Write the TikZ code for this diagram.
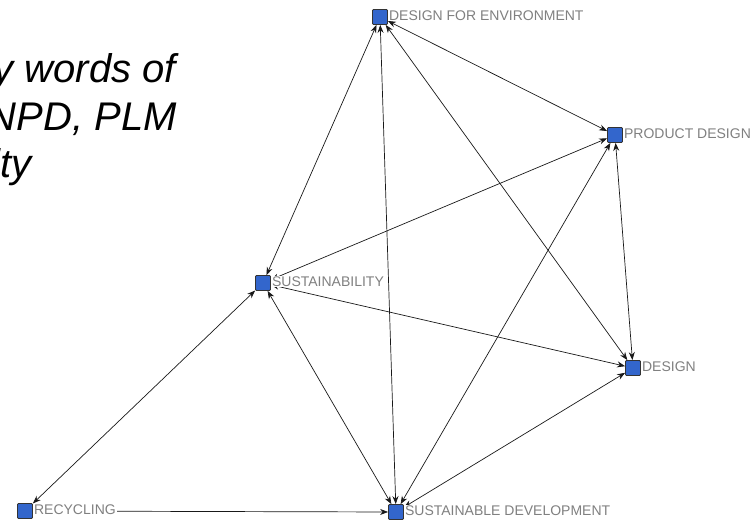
\documentclass[tikz,border=0pt]{standalone}
\usepackage{fontspec}
\setmainfont{Liberation Sans}
\setsansfont{Liberation Sans}
\usetikzlibrary{arrows.meta}

\pgfdeclarelayer{bg}
\pgfsetlayers{bg,main}
\definecolor{kwblue}{RGB}{51,102,204}

\tikzset{
  kw/.style={draw=black!80, fill=kwblue, rounded corners=1pt, minimum size=15pt, inner sep=0pt, line width=0.8pt},
  lbl/.style={text=black!50, font=\fontsize{14}{16}\selectfont, fill=white, inner sep=1pt, yshift=1.5pt},
  link/.style={black!90, line width=0.7pt, {Stealth[length=8pt,width=6pt]}-{Stealth[length=8pt,width=6pt]}},
  oneway/.style={black!90, line width=0.7pt, -{Stealth[length=8pt,width=6pt]}},
  heading/.style={font=\fontsize{40}{48}\selectfont\itshape, anchor=base east, inner sep=0pt}
}

\begin{document}
\begin{tikzpicture}[x=1pt,y=-1pt]
\useasboundingbox (0,0) rectangle (753,520);

\begin{scope}
 \clip (0,0) rectangle (753,520);
 \node[heading] (h1) at (176,82) {y words of};
 \node[heading] (h2) at (177,130) {NPD, PLM};
 \node[heading] (h3) at (32,177) {ity};
\end{scope}

 \node[kw, label={[lbl]right:DESIGN FOR ENVIRONMENT}] (dfe) at (380,17) {};
 \node[kw, label={[lbl]right:PRODUCT DESIGN}] (pd) at (615,135) {};
 \node[kw, label={[lbl]right:SUSTAINABILITY}] (sust) at (263,283) {};
 \node[kw, label={[lbl]right:DESIGN}] (des) at (633,368) {};
 \node[kw, label={[lbl]right:RECYCLING}] (rec) at (25,511) {};
 \node[kw, label={[lbl]right:SUSTAINABLE DEVELOPMENT}] (sd) at (396,512) {};

\begin{pgfonlayer}{bg}
 \draw[link] (rec) -- (sust);
 \draw[oneway] (rec) -- (sd);
 \draw[link] (sust) -- (dfe);
 \draw[link] (sust) -- (pd);
 \draw[link] (sust) -- (des);
 \draw[link] (sust) -- (sd);
 \draw[link] (dfe) -- (sd);
 \draw[link] (dfe) -- (pd);
 \draw[link] (dfe) -- (des);
 \draw[link] (pd) -- (sd);
 \draw[link] (pd) -- (des);
 \draw[link] (des) -- (sd);
\end{pgfonlayer}
\end{tikzpicture}
\end{document}
